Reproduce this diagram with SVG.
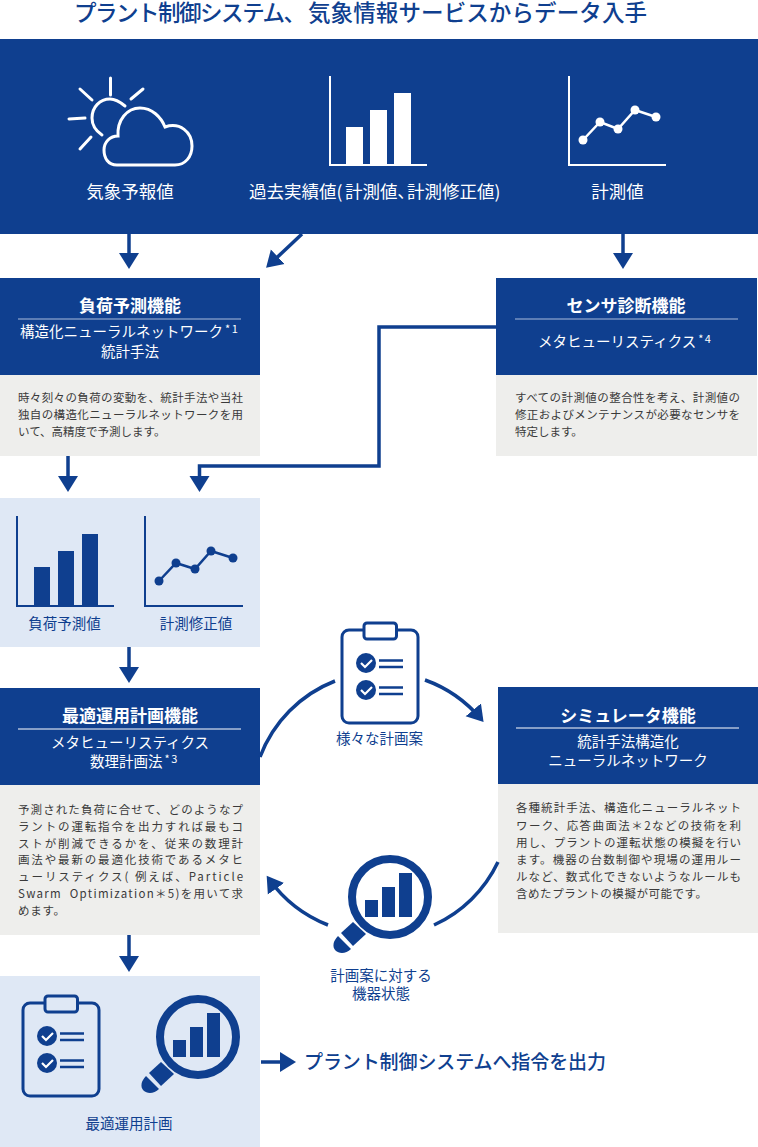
<svg xmlns="http://www.w3.org/2000/svg" xmlns:xlink="http://www.w3.org/1999/xlink" width="758" height="1147" viewBox="0 0 758 1147">
<style>
text{font-family:"Noto Sans CJK JP","Noto Sans",sans-serif}
.navy{fill:#0f3f8f}.light{fill:#dfe8f5}.gray{fill:#eeeeec}
.title{font-size:22.500px;font-weight:500;fill:#0f3f8f;font-family:"Liberation Sans","Noto Sans CJK JP",sans-serif}
.top{font-size:17.500px;fill:#fff;text-anchor:middle}
.head{font-size:17px;font-weight:700;fill:#fff;text-anchor:middle}
.sub{font-size:14.500px;fill:#fff;text-anchor:middle}
.subs{font-size:14.500px;fill:#fff}
.sup{font-size:11px;letter-spacing:1.500px}
.body{font-size:11.500px;fill:#3a3a3a}
.lab{font-size:14.500px;fill:#0f3f8f;text-anchor:middle;font-family:"Liberation Sans","Noto Sans CJK JP",sans-serif}
.conn{fill:none;stroke:#0f3f8f;stroke-width:3.500}
.arc{fill:none;stroke:#0f3f8f;stroke-width:3.500}
.ax{fill:none;stroke:#0f3f8f;stroke-width:2}
.wax{fill:none;stroke:#fff;stroke-width:2}
</style>
<defs>
<marker id="arrow" markerUnits="userSpaceOnUse" markerWidth="18" markerHeight="22" refX="12" refY="11" orient="auto"><path d="M0,1L16,11L0,21Z" fill="#0f3f8f"/></marker>
<g id="clipboard">
<rect x="342" y="630" width="76" height="93" rx="7" fill="none" stroke="#0f3f8f" stroke-width="3"/>
<rect x="364" y="623" width="32.500" height="16" rx="3" stroke="#0f3f8f" stroke-width="3"/>
<circle cx="366" cy="663" r="10" fill="#0f3f8f"/><circle cx="366" cy="690" r="10" fill="#0f3f8f"/>
<path d="M361,663l4,4l7,-7M361,690l4,4l7,-7" fill="none" stroke="#fff" stroke-width="2.200"/>
<path d="M379,660.500H403M379,667H403M379,687.500H403M379,694H403" fill="none" stroke="#0f3f8f" stroke-width="2.500"/>
</g>
<g id="magnifier">
<circle cx="390" cy="897" r="38" fill="none" stroke="#0f3f8f" stroke-width="8"/>
<path d="M365,900h13v17h-13zM382,887h13v30h-13zM399,873h13v44h-13z" fill="#0f3f8f"/>
<path d="M353,922L366,934L353,946L341,933Z" fill="#0f3f8f"/>
<path d="M338,936L351,949C346,954 339,954 335.500,950.500C332,947 333,941 338,936Z" fill="#0f3f8f"/>
</g>
</defs>

<text class="title" y="21"><tspan x="74" textLength="232">プラント制御システム、</tspan><tspan x="308" textLength="339">気象情報サービスからデータ入手</tspan></text>

<g id="sources">
<rect class="navy" x="0" y="39" width="758" height="195"/>
<g fill="none" stroke="#fff" stroke-width="3" stroke-linecap="round">
<path d="M110.500,78V95M143,89L131,99M80,89L92,100M69,119L85,118M80,149L91,137"/>
<path d="M125,106C119,101 114,99 110,99C100,99 92,107 92,118C92,125 96,131 102,135"/>
<path d="M117,165C108,165 104,158 104,150C104,142 110,136 118,136C117,120 127,108 140,108C152,108 161,117 165,127C180,122 192,132 192,146C192,157 185,165 175,165Z"/>
</g>
<text class="top" x="130" y="198">気象予報値</text>
<path class="wax" d="M330,76V165H427"/>
<path d="M346,127h17v38h-17zM370,110h17v55h-17zM394,93h17v72h-17z" fill="#fff"/>
<text class="top" y="198" style="text-anchor:start;font-feature-settings:'palt'"><tspan x="249" font-size="17.500">過去実績値(</tspan><tspan x="345">計測値、</tspan><tspan x="407">計測修正値)</tspan></text>
<path class="wax" d="M569,76V165H666"/>
<path d="M583,140L600,122L618,129L635,110L656,117" fill="none" stroke="#fff" stroke-width="2.500"/>
<g fill="#fff"><circle cx="583" cy="140" r="4.500"/><circle cx="600" cy="122" r="4.500"/><circle cx="618" cy="129" r="4.500"/><circle cx="635" cy="110" r="4.500"/><circle cx="656" cy="117" r="4.500"/></g>
<text class="top" x="617.500" y="198">計測値</text>
</g>

<g id="load-forecast">
<rect class="navy" x="0" y="278" width="260" height="97"/>
<rect class="gray" x="0" y="375" width="260" height="81"/>
<text class="head" x="130" y="312">負荷予測機能</text>
<path d="M18,319H241" stroke="#a9bbdc" stroke-width="1.200"/>
<text class="subs" x="20" y="337">構造化ニューラルネットワーク<tspan class="sup" dx="2" dy="-4">*1</tspan></text>
<text class="sub" x="130" y="357">統計手法</text>
<text class="body" x="18" y="402" textLength="225">時々刻々の負荷の変動を、統計手法や当社</text>
<text class="body" x="18" y="419" textLength="225">独自の構造化ニューラルネットワークを用</text>
<text class="body" x="18" y="436">いて、高精度で予測します。</text>
</g>

<g id="sensor-diagnosis">
<rect class="navy" x="496" y="278" width="261" height="97"/>
<rect class="gray" x="496" y="375" width="261" height="81"/>
<text class="head" x="626" y="312">センサ診断機能</text>
<path d="M515,319H738" stroke="#a9bbdc" stroke-width="1.200"/>
<text class="subs" x="538" y="347">メタヒューリスティクス<tspan class="sup" dx="2" dy="-4">*4</tspan></text>
<text class="body" x="515" y="402" textLength="225">すべての計測値の整合性を考え、計測値の</text>
<text class="body" x="515" y="419" textLength="225">修正およびメンテナンスが必要なセンサを</text>
<text class="body" x="515" y="436">特定します。</text>
</g>

<g id="forecast-values">
<rect class="light" x="0" y="498" width="260" height="149"/>
<path class="ax" d="M17,516V606H114"/>
<path class="navy" d="M34,567h16v39h-16zM58,551h16v55h-16zM82,534h16v72h-16z"/>
<text class="lab" x="64.500" y="629">負荷予測値</text>
<path class="ax" d="M145,516V606H243"/>
<path d="M159,581L176,563L195,569L211,551L233,558" fill="none" stroke="#0f3f8f" stroke-width="2.500"/>
<g class="navy"><circle cx="159" cy="581" r="4.500"/><circle cx="176" cy="563" r="4.500"/><circle cx="195" cy="569" r="4.500"/><circle cx="211" cy="551" r="4.500"/><circle cx="233" cy="558" r="4.500"/></g>
<text class="lab" x="196" y="629">計測修正値</text>
</g>

<g id="optimal-planning">
<rect class="navy" x="0" y="688" width="260" height="97"/>
<rect class="gray" x="0" y="785" width="260" height="150"/>
<text class="head" x="130" y="722">最適運用計画機能</text>
<path d="M18,729H241" stroke="#fff" stroke-width="1"/>
<text class="sub" x="130" y="748">メタヒューリスティクス</text>
<text class="subs" x="90" y="767">数理計画法<tspan class="sup" dx="2" dy="-4">*3</tspan></text>
<text class="body" x="18" y="814" textLength="225">予測された負荷に合せて、どのようなプ</text>
<text class="body" x="18" y="831" textLength="225">ラントの運転指令を出力すれば最もコ</text>
<text class="body" x="18" y="848" textLength="225">ストが削減できるかを、従来の数理計</text>
<text class="body" x="18" y="864" textLength="225">画法や最新の最適化技術であるメタヒ</text>
<text class="body" x="18" y="881" textLength="225">ューリスティクス( 例えば、Particle</text>
<text class="body" x="18" y="898" textLength="225" xml:space="preserve">Swarm  Optimization＊5)を用いて求</text>
<text class="body" x="18" y="915" textLength="47">めます。</text>
</g>

<g id="various-plans">
<use href="#clipboard" fill="#fff"/>
<text class="lab" x="379.500" y="744">様々な計画案</text>
</g>

<g id="machine-state">
<use href="#magnifier"/>
<text class="lab" y="981"><tspan x="381">計画案に対する</tspan><tspan x="381" dy="18">機器状態</tspan></text>
</g>

<g id="simulator">
<rect class="navy" x="498" y="687" width="260" height="97"/>
<rect class="gray" x="498" y="784" width="260" height="149"/>
<text class="head" x="628" y="722">シミュレータ機能</text>
<path d="M516,728H739" stroke="#fff" stroke-width="1"/>
<text class="sub" x="628" y="747">統計手法構造化</text>
<text class="sub" x="628" y="766">ニューラルネットワーク</text>
<text class="body" x="516" y="812" textLength="225">各種統計手法、構造化ニューラルネット</text>
<text class="body" x="516" y="830" textLength="225">ワーク、応答曲面法＊2などの技術を利</text>
<text class="body" x="516" y="847" textLength="225">用し、プラントの運転状態の模擬を行い</text>
<text class="body" x="516" y="864" textLength="225">ます。機器の台数制御や現場の運用ルー</text>
<text class="body" x="516" y="881" textLength="225">ルなど、数式化できないようなルールも</text>
<text class="body" x="516" y="898" textLength="191">含めたプラントの模擬が可能です。</text>
</g>

<g id="optimal-plan">
<rect class="light" x="0" y="976" width="260" height="171"/>
<use href="#clipboard" x="-319" y="373" fill="#dfe8f5"/>
<use href="#magnifier" x="-192" y="140"/>
<text class="lab" x="129" y="1129">最適運用計画</text>
</g>

<g id="output">
<text x="304" y="1069" font-size="19" font-weight="500" fill="#0f3f8f" textLength="302">プラント制御システムへ指令を出力</text>
</g>

<g id="connectors">
<path class="conn" d="M129,234V265" marker-end="url(#arrow)"/>
<path class="conn" d="M302,234L269,265" marker-end="url(#arrow)"/>
<path class="conn" d="M623,234V265" marker-end="url(#arrow)"/>
<path class="conn" d="M496,327H379V466H199.500V488" marker-end="url(#arrow)"/>
<path class="conn" d="M68,456V488" marker-end="url(#arrow)"/>
<path class="conn" d="M129,647V679" marker-end="url(#arrow)"/>
<path class="conn" d="M129,935V968" marker-end="url(#arrow)"/>
<path class="arc" d="M260,757A131,131 0 0 1 335,681"/>
<path class="arc" d="M425,680A131,131 0 0 1 481,719" marker-end="url(#arrow)"/>
<path class="arc" d="M498,862A131,131 0 0 1 434,925"/>
<path class="arc" d="M328,925A131,131 0 0 1 269,879" marker-end="url(#arrow)"/>
<path class="conn" d="M261,1062H292" marker-end="url(#arrow)"/>
</g>
</svg>
